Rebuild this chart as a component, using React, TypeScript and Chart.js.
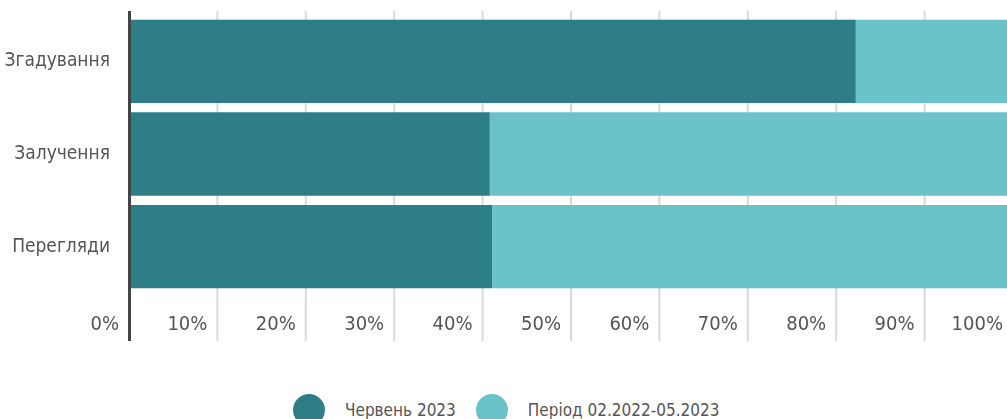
import React, { useEffect, useRef } from "react";
import { Chart, registerables } from "chart.js";

Chart.register(...registerables);

const categories = ["Згадування", "Залучення", "Перегляди"];
const seriesNames = ["Червень 2023", "Період 02.2022-05.2023"];
const juneValues = [82.1, 40.7, 40.95];
const periodValues = [17.9, 59.3, 59.05];
const tickValues = [0, 10, 20, 30, 40, 50, 60, 70, 80, 90, 100];
const colors = ["#2e7e87", "#6ac2cb"];

const FONT = "'Liberation Sans Narrow', 'DejaVu Sans Condensed', sans-serif";
const TEXT = "#555555";

const gridPlugin = {
  id: "customGrid",
  beforeDatasetsDraw(chart: any) {
    const x = chart.scales.x;
    const ctx = chart.ctx;
    ctx.save();
    ctx.strokeStyle = "#d9d9d9";
    ctx.lineWidth = 2;
    tickValues.forEach((v) => {
      if (v === 0) return;
      const px = x.getPixelForValue(v) - 1;
      ctx.beginPath();
      ctx.moveTo(px, 11);
      ctx.lineTo(px, 341);
      ctx.stroke();
    });
    ctx.restore();
  },
  afterDatasetsDraw(chart: any) {
    const x = chart.scales.x;
    const ctx = chart.ctx;
    ctx.save();
    ctx.strokeStyle = "#444444";
    ctx.lineWidth = 3;
    const px = x.getPixelForValue(0) - 0.5;
    ctx.beginPath();
    ctx.moveTo(px, 11);
    ctx.lineTo(px, 341);
    ctx.stroke();
    ctx.restore();
  },
};

export default function App() {
  const ref = useRef<HTMLCanvasElement>(null);
  useEffect(() => {
    if (!ref.current) return;
    const chart = new Chart(ref.current, {
      type: "bar",
      data: {
        labels: categories,
        datasets: [
          { label: seriesNames[0], data: juneValues, backgroundColor: colors[0], barPercentage: 0.9, categoryPercentage: 1 },
          { label: seriesNames[1], data: periodValues, backgroundColor: colors[1], barPercentage: 0.9, categoryPercentage: 1 },
        ],
      },
      options: {
        indexAxis: "y",
        animation: false,
        responsive: false,
        maintainAspectRatio: false,
        layout: { padding: { top: 15, right: 6, left: 0, bottom: 0 } },
        plugins: { legend: { display: false }, tooltip: { enabled: false } },
        scales: {
          x: {
            stacked: true,
            min: 0,
            max: 100,
            afterBuildTicks: (scale: any) => {
              scale.ticks = tickValues.map((v) => ({ value: v }));
            },
            afterFit: (scale: any) => {
              scale.height = 77;
              scale.paddingLeft = 0;
              scale.paddingRight = 0;
              scale.paddingTop = 0;
              scale.paddingBottom = 0;
            },
            grid: { display: false },
            border: { display: false },
            ticks: {
              autoSkip: false,
              maxRotation: 0,
              align: "end",
              labelOffset: -11,
              padding: 12,
              color: TEXT,
              font: { family: FONT, size: 20 },
              callback: (v: any) => v + "%",
            },
          },
          y: {
            stacked: true,
            afterFit: (scale: any) => {
              scale.width = 130;
              scale.paddingLeft = 0;
              scale.paddingRight = 0;
              scale.paddingTop = 0;
              scale.paddingBottom = 0;
            },
            grid: { display: false, drawTicks: false },
            border: { display: false },
            ticks: {
              padding: 20,
              color: TEXT,
              font: { family: FONT, size: 19 },
            },
          },
        },
      },
      plugins: [gridPlugin],
    });
    return () => chart.destroy();
  }, []);

  const legendItem = (i: number) => (
    <div key={i} style={{ display: "flex", alignItems: "center" }}>
      <span
        style={{
          display: "inline-block",
          width: 32,
          height: 32,
          borderRadius: "50%",
          background: colors[i],
          marginRight: 20,
        }}
      />
      <span style={{ fontFamily: FONT, fontSize: 17, color: TEXT, marginRight: 20, whiteSpace: "nowrap" }}>
        {seriesNames[i]}
      </span>
    </div>
  );

  return (
    <div style={{ position: "fixed", left: 0, top: 0, width: 1007, height: 419, overflow: "hidden", background: "#fff" }}>
      <div style={{ position: "absolute", left: 0, top: 0, width: 1020, height: 370 }}>
        <canvas ref={ref} width={1020} height={370} style={{ width: 1020, height: 370 }} />
      </div>
      <div style={{ position: "absolute", left: 293, top: 394, display: "flex", alignItems: "center" }}>
        {legendItem(0)}
        {legendItem(1)}
      </div>
    </div>
  );
}
